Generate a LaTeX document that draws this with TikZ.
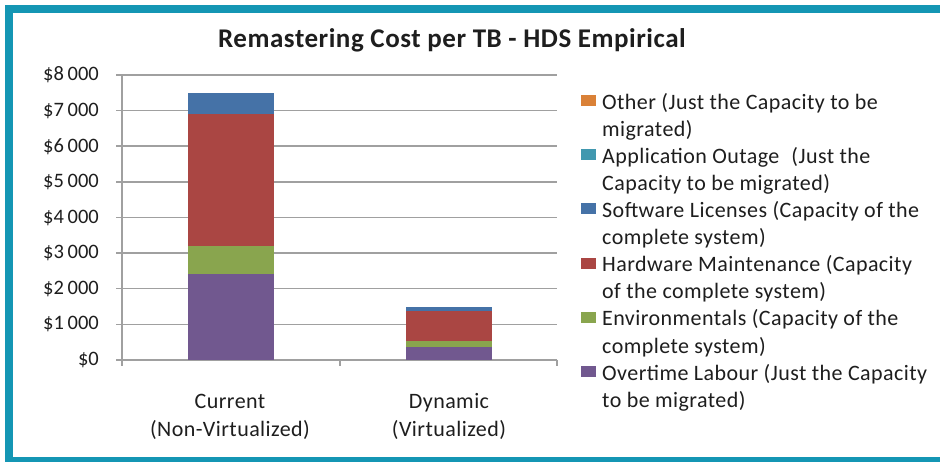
\documentclass[tikz,border=0pt]{standalone}
\usepackage{fontspec}
\setmainfont{Carlito}
\newfontfamily\lspfont{Carlito}[LetterSpace=2]
\definecolor{frameteal}{RGB}{20,150,180}
\definecolor{gridgray}{RGB}{160,160,160}
\definecolor{txt}{RGB}{30,30,30}
\definecolor{cOther}{RGB}{218,129,55}
\definecolor{cOutage}{RGB}{65,152,175}
\definecolor{cSoft}{RGB}{69,114,167}
\definecolor{cHard}{RGB}{170,70,67}
\definecolor{cEnv}{RGB}{137,165,78}
\definecolor{cOver}{RGB}{113,88,143}
\begin{document}
\begin{tikzpicture}[x=1pt,y=-1pt,
  grid/.style={draw=gridgray,line width=1.5pt},
  ylab/.style={anchor=east,inner sep=0pt,text=txt,font=\fontsize{20.5}{24}\selectfont},
  catlab/.style={anchor=base,inner sep=0pt,text=txt,font=\lspfont\fontsize{22}{26}\selectfont},
  leg/.style={anchor=base west,inner sep=0pt,text=txt,font=\lspfont\fontsize{22}{26}\selectfont}]
\clip (0,0) rectangle (940,462);
\fill[white] (0,0) rectangle (940,462);
\draw[frameteal,line width=8pt] (9,9) rectangle (960,461);
% title
\node[anchor=base,inner sep=0pt,text=txt,font=\lspfont\bfseries\fontsize{27}{31}\selectfont] (title) at (452,48) {Remastering Cost per TB - HDS Empirical};
% gridlines and y labels
\foreach \v/\t in {0/\$0,1/\$1\hspace{0.18em}000,2/\$2\hspace{0.18em}000,3/\$3\hspace{0.18em}000,4/\$4\hspace{0.18em}000,5/\$5\hspace{0.18em}000,6/\$6\hspace{0.18em}000,7/\$7\hspace{0.18em}000,8/\$8\hspace{0.18em}000}{
  \draw[grid] (116,{360-\v*35.625}) -- (557,{360-\v*35.625});
  \node[ylab] (y\v) at (99,{360-\v*35.625}) {\t};
}
\draw[grid] (122,75) -- (122,366);
\draw[grid] (340,360) -- (340,366);
\draw[grid] (557,360) -- (557,366);
% bars (value in $1000 -> px)
\def\yv#1{360-#1*35.625}
\fill[cOver] (188,{\yv{0}}) rectangle (274,{\yv{2.4}});
\fill[cEnv]  (188,{\yv{2.4}}) rectangle (274,{\yv{3.2}});
\fill[cHard] (188,{\yv{3.2}}) rectangle (274,{\yv{6.9}});
\fill[cSoft] (188,{\yv{6.9}}) rectangle (274,{\yv{7.5}});
\fill[cOver] (406,{\yv{0}}) rectangle (492,{\yv{0.37}});
\fill[cEnv]  (406,{\yv{0.37}}) rectangle (492,{\yv{0.53}});
\fill[cHard] (406,{\yv{0.53}}) rectangle (492,{\yv{1.38}});
\fill[cSoft] (406,{\yv{1.38}}) rectangle (492,{\yv{1.48}});
% category labels
\node[catlab] (c1a) at (230,408) {Current};
\node[catlab] (c1b) at (230,436.5) {(Non-Virtualized)};
\node[catlab] (c2a) at (449,408) {Dynamic};
\node[catlab] (c2b) at (449,436.5) {(Virtualized)};
% legend
\foreach \b/\c in {109.3/cOther,163.3/cOutage,217.3/cSoft,271.7/cHard,326/cEnv,380.3/cOver}{
  \fill[\c] (581,\b-14) rectangle (596,\b-3);
}
\node[leg] (l1) at (602,109.3) {Other (Just the Capacity to be};
\node[leg] (l2) at (602,136.5) {migrated)};
\node[leg] (l3) at (602,163.3) {Application Outage\hspace{0.3em} (Just the};
\node[leg] (l4) at (602,190.5) {Capacity to be migrated)};
\node[leg] (l5) at (602,217.3) {Software Licenses (Capacity of the};
\node[leg] (l6) at (602,244.5) {complete system)};
\node[leg] (l7) at (602,271.7) {Hardware Maintenance (Capacity};
\node[leg] (l8) at (602,299) {of the complete system)};
\node[leg] (l9) at (602,326) {Environmentals (Capacity of the};
\node[leg] (l10) at (602,353.2) {complete system)};
\node[leg] (l11) at (602,380.3) {Overtime Labour (Just the Capacity};
\node[leg] (l12) at (602,407) {to be migrated)};
\end{tikzpicture}
\end{document}
